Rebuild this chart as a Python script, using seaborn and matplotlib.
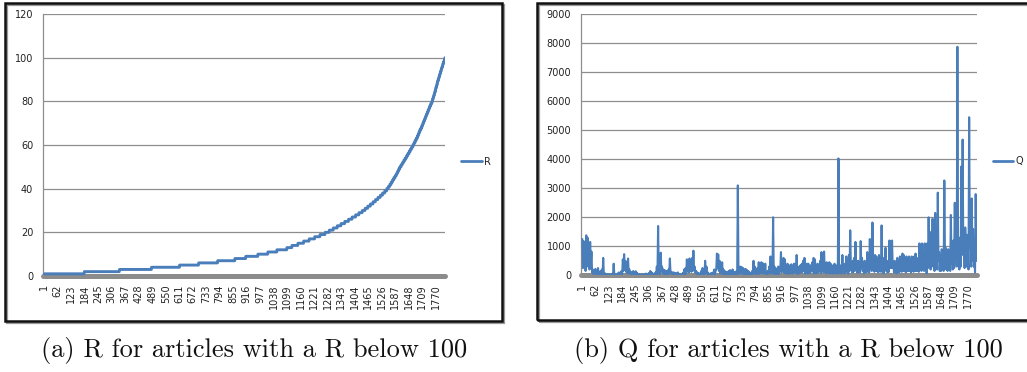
import numpy as np
import pandas as pd
import matplotlib
matplotlib.use("Agg")
import matplotlib.pyplot as plt
import seaborn as sns
from matplotlib.patches import Rectangle

# ---------------- data ----------------
# (a) R: sorted R values; number of articles at each R level 1..100
R_levels = list(range(1, 101))
R_counts = [181, 159, 145, 127, 86, 86, 78, 49, 55, 45,
            41, 45, 23, 27, 26, 25, 25, 24, 23,
            19, 18, 18, 17, 17, 17, 16, 16, 15, 15,
            13, 12, 12, 12, 11, 11, 11, 10, 10, 9,
            7, 7, 6, 6, 6, 6, 6, 5, 5, 5,
            6, 6, 6, 6, 6, 6, 6, 5, 6, 6,
            5, 5, 5, 5, 4, 4, 4, 5, 4, 4,
            4, 4, 4, 4, 4, 4, 4, 4, 4, 5,
            3, 3, 3, 3, 3, 2, 3, 3, 2, 3,
            3, 3, 3, 3, 3, 3, 3, 3, 4, 3,
            1]

# (b) Q: local peak values (at article 1, 7, 13, ...) and local lows in between (at 4, 10, 16, ...)
Q_step = 6
Q_peaks = [1250, 1180, 1050, 1380, 1300, 1000, 1150, 820, 200, 150,
           220, 180, 250, 100, 150, 200, 600, 80, 50, 30,
           40, 20, 30, 50, 400, 30, 20, 60, 100, 80,
           150, 550, 730, 500, 300, 580, 200, 120, 100, 150,
           100, 140, 80, 40, 30, 20, 40, 20, 50, 60,
           30, 80, 150, 100, 60, 50, 100, 300, 1700, 200,
           780, 300, 200, 180, 150, 150, 200, 580, 120, 100,
           100, 80, 60, 100, 50, 30, 20, 80, 200, 250,
           550, 300, 580, 450, 600, 850, 300, 150, 100, 80,
           50, 150, 250, 200, 500, 300, 100, 50, 60, 80,
           100, 200, 150, 750, 720, 500, 300, 450, 200, 150,
           120, 100, 150, 180, 100, 200, 120, 100, 150, 3100,
           200, 300, 280, 250, 200, 220, 180, 150, 100, 50,
           150, 500, 300, 100, 250, 450, 200, 450, 420, 300,
           400, 100, 150, 300, 650, 250, 2000, 300, 250, 200,
           300, 250, 800, 500, 600, 550, 300, 400, 250, 350,
           380, 300, 400, 380, 700, 250, 300, 350, 400, 500,
           600, 300, 400, 400, 250, 350, 450, 600, 550, 300,
           400, 350, 500, 800, 350, 820, 400, 450, 300, 450,
           400, 300, 350, 400, 300, 350, 4030, 300, 350, 700,
           300, 400, 650, 300, 700, 1550, 400, 500, 600, 1150,
           350, 500, 400, 1180, 600, 300, 500, 400, 800, 500,
           1250, 600, 1820, 500, 700, 650, 400, 700, 500, 1720,
           300, 600, 950, 400, 500, 1200, 1180, 1200, 400, 500,
           300, 600, 400, 650, 500, 750, 700, 400, 650, 600,
           650, 400, 650, 500, 650, 750, 600, 500, 1100, 700,
           1100, 600, 1100, 300, 1100, 2000, 800, 1500, 1950, 700,
           2150, 900, 2850, 800, 700, 900, 600, 3270, 950, 800,
           900, 800, 2080, 900, 1200, 2500, 1300, 7880, 1000, 1300,
           3750, 4680, 1200, 1650, 1400, 900, 5450, 1300, 2650, 1600,
           500, 2800, 2750]
Q_lows = [250, 400, 150, 600, 300, 200, 350, 100, 40, 60,
          50, 30, 60, 20, 40, 50, 30, 20, 10, 10,
          10, 5, 10, 20, 10, 5, 10, 20, 30, 20,
          40, 150, 200, 120, 60, 100, 50, 30, 20, 40,
          20, 30, 10, 10, 5, 5, 10, 5, 10, 10,
          10, 20, 30, 20, 10, 10, 30, 40, 100, 30,
          150, 80, 50, 40, 30, 40, 60, 80, 30, 20,
          20, 10, 10, 20, 10, 5, 5, 20, 40, 60,
          150, 100, 200, 120, 150, 200, 80, 40, 20, 20,
          10, 30, 60, 40, 100, 60, 20, 10, 10, 20,
          30, 40, 200, 250, 150, 60, 100, 40, 30, 30,
          30, 20, 40, 30, 20, 40, 30, 20, 30, 60,
          60, 80, 60, 50, 40, 50, 30, 20, 10, 20,
          40, 100, 50, 30, 100, 50, 100, 80, 60, 80,
          20, 40, 60, 150, 50, 80, 60, 50, 40, 60,
          50, 200, 100, 150, 100, 60, 80, 50, 70, 80,
          60, 80, 90, 150, 50, 60, 80, 100, 120, 150,
          60, 80, 60, 70, 100, 150, 120, 60, 80, 70,
          100, 200, 80, 200, 100, 120, 60, 100, 80, 60,
          80, 60, 70, 80, 60, 70, 100, 60, 80, 150,
          60, 100, 150, 60, 150, 300, 100, 120, 150, 250,
          80, 120, 100, 250, 150, 60, 120, 100, 200, 100,
          250, 150, 300, 120, 150, 150, 100, 150, 120, 300,
          60, 150, 200, 100, 120, 250, 250, 250, 100, 120,
          60, 150, 100, 150, 120, 150, 150, 100, 150, 150,
          150, 100, 150, 120, 150, 150, 150, 120, 250, 150,
          250, 150, 250, 60, 250, 400, 200, 300, 400, 150,
          400, 200, 500, 150, 150, 200, 150, 500, 200, 150,
          200, 150, 400, 200, 250, 500, 300, 1200, 200, 300,
          700, 900, 250, 300, 300, 200, 1000, 300, 500, 300,
          100, 500]

x_tick_values = list(range(1, 1771, 61))
R_yticks = [0, 20, 40, 60, 80, 100, 120]
Q_yticks = [0, 1000, 2000, 3000, 4000, 5000, 6000, 7000, 8000, 9000]
series_names = ["R", "Q"]
captions = ["(a) R for articles with a R below 100",
            "(b) Q for articles with a R below 100"]

# ---------------- build tables ----------------
R_vals = np.repeat(R_levels, R_counts)
df_R = pd.DataFrame({"article": np.arange(1, len(R_vals) + 1), "value": R_vals})

peak_x = 1 + Q_step * np.arange(len(Q_peaks))
low_x = 1 + Q_step // 2 + Q_step * np.arange(len(Q_lows))
df_Q = pd.DataFrame({"article": np.concatenate([peak_x, low_x]),
                     "value": np.concatenate([Q_peaks, Q_lows])}).sort_values("article")

N = len(R_vals)

# ---------------- style ----------------
sns.set_style("white")
plt.rcParams["font.family"] = ["DejaVu Sans"]
LINE_BLUE = "#4a7ebb"
GRID = "#8e8e8e"

W, H = 1027, 372
fig = plt.figure(figsize=(W / 100, H / 100), dpi=100)
fig.patch.set_facecolor("white")

def px_box(x0, y0, x1, y1):
    return [x0 / W, 1 - y1 / H, (x1 - x0) / W, (y1 - y0) / H]

# panel frames (with a light shadow)
for (x0, y0, x1, y1) in [(5, 3, 502, 321), (537, 3, 1040, 320)]:
    fig.add_artist(Rectangle(((x0 + 2) / W, 1 - (y1 + 2) / H), (x1 - x0) / W, (y1 - y0) / H,
                             transform=fig.transFigure, fill=False, ec="#9a9a9a", lw=1.6))
    fig.add_artist(Rectangle((x0 / W, 1 - y1 / H), (x1 - x0) / W, (y1 - y0) / H,
                             transform=fig.transFigure, fill=False, ec="#111111", lw=1.8))

axR = fig.add_axes(px_box(43, 14, 445, 276))
axQ = fig.add_axes(px_box(581, 14.3, 977, 275.3))

sns.lineplot(data=df_R, x="article", y="value", ax=axR, color=LINE_BLUE,
             linewidth=2.1, label=series_names[0], zorder=3)
sns.lineplot(data=df_Q, x="article", y="value", ax=axQ, color=LINE_BLUE,
             linewidth=1.5, label=series_names[1], zorder=3)

for ax, yt, ymax in [(axR, R_yticks, 120), (axQ, Q_yticks, 9000)]:
    ax.set_xlim(-5, N)
    ax.set_ylim(0, ymax)
    ax.set_yticks(yt)
    ax.set_yticklabels([str(v) for v in yt])
    ax.set_xticks(x_tick_values)
    ax.set_xticklabels([str(v) for v in x_tick_values], rotation=90, va="top", ha="center")
    ax.set_xlabel("")
    ax.set_ylabel("")
    ax.set_facecolor("white")
    ax.grid(axis="y", color=GRID, lw=0.9)
    ax.grid(axis="x", visible=False)
    ax.set_axisbelow(True)
    for s in ["top", "right", "bottom"]:
        ax.spines[s].set_visible(False)
    ax.spines["left"].set_color(GRID)
    ax.spines["left"].set_linewidth(0.9)
    ax.tick_params(axis="y", length=3, width=0.8, color=GRID, pad=4, labelsize=7, labelcolor="#222222")
    ax.tick_params(axis="x", length=0, pad=6, labelsize=7, labelcolor="#222222")
    # grey floor band along the category axis
    ax.axhline(0, color="#8c8c8c", lw=3.6, clip_on=False, zorder=2)

legR = axR.legend(loc="center left", bbox_to_anchor=(461 / W, 1 - 161.7 / H),
                  bbox_transform=fig.transFigure, frameon=False, fontsize=7,
                  handlelength=2.2, handletextpad=0.2, borderpad=0, borderaxespad=0)
legQ = axQ.legend(loc="center left", bbox_to_anchor=(993 / W, 1 - 161 / H),
                  bbox_transform=fig.transFigure, frameon=False, fontsize=7,
                  handlelength=2.1, handletextpad=0.2, borderpad=0, borderaxespad=0)
for leg in (legR, legQ):
    for ln in leg.get_lines():
        ln.set_linewidth(2.0)

fig.text(254 / W, 1 - 350 / H, captions[0], family="cmr10", fontsize=19,
         ha="center", va="center", color="#111111")
fig.text(788 / W, 1 - 350 / H, captions[1], family="cmr10", fontsize=19,
         ha="center", va="center", color="#111111")

fig.savefig("out.png", dpi=100, facecolor="white")
